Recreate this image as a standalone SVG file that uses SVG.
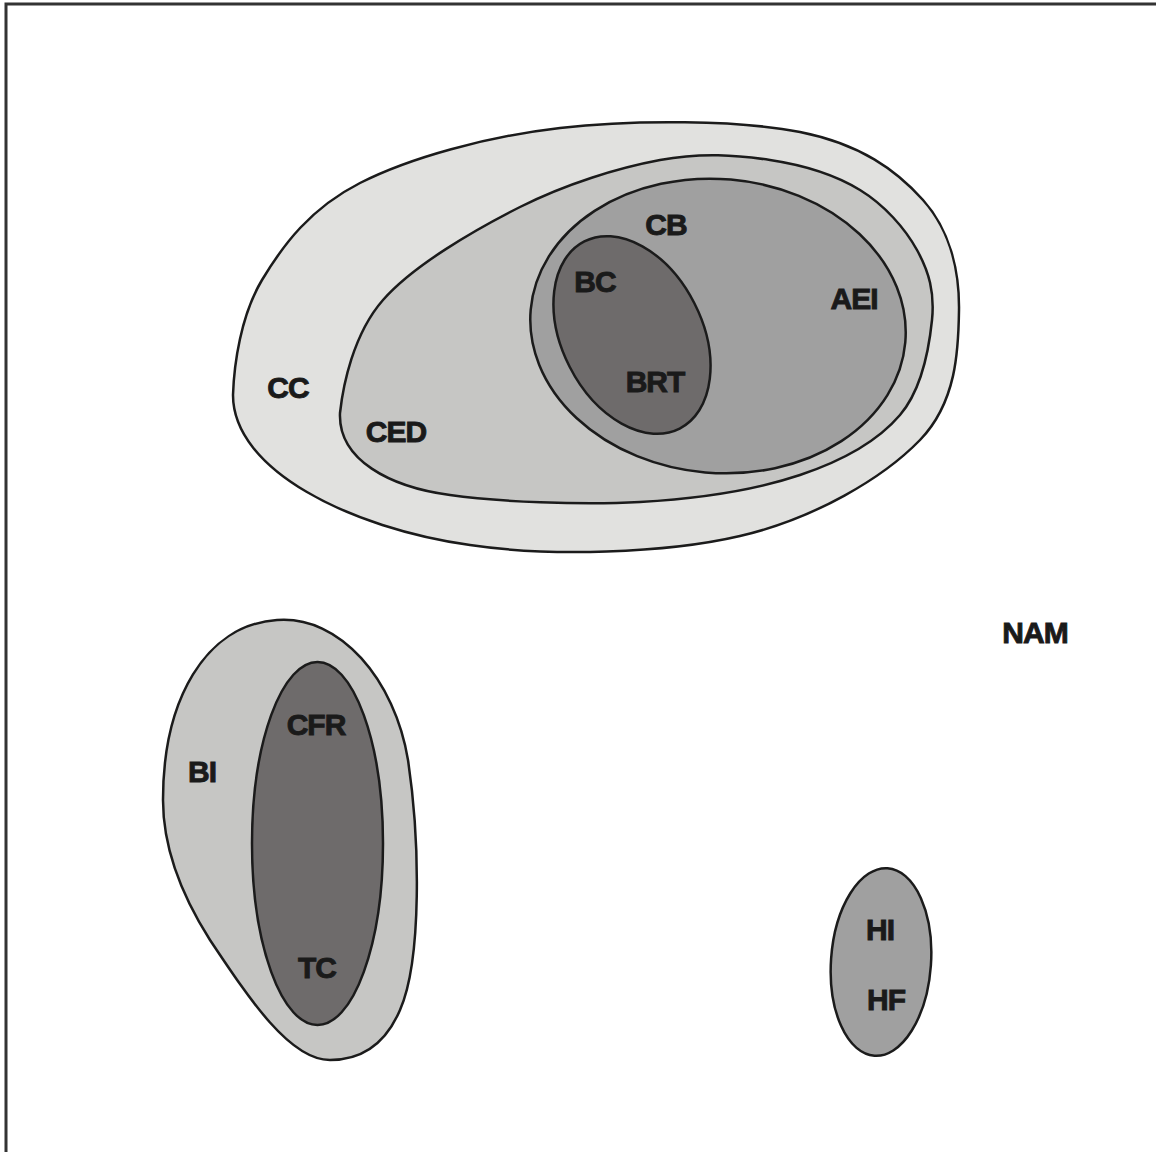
<svg xmlns="http://www.w3.org/2000/svg" width="1156" height="1152" viewBox="0 0 1156 1152">
  <style>
    .region { stroke: #1b1b1b; stroke-width: 2.5; }
    .c1 { fill: #e1e1df; }
    .c2 { fill: #c6c6c4; }
    .c3 { fill: #a0a0a0; }
    .c4 { fill: #6e6b6b; }
    .lbl { font-family: "Liberation Sans", Arial, sans-serif; font-weight: bold; font-size: 30px; fill: #1a1a1a; stroke: #1a1a1a; stroke-width: 0.9; text-anchor: middle; letter-spacing: -1px; }
  </style>
  <rect width="1156" height="1152" fill="#ffffff"/>
  <!-- frame: top and left rules -->
  <path d="M 6,1152 V 4 H 1156" fill="none" stroke="#333333" stroke-width="3"/>

  <!-- upper cluster: nested egg-shaped regions -->
  <g id="CC">
    <path class="region c1" d="M 233,395
      C 234,364.2 240.8,315.3 262,280
      C 283.2,244.7 310.3,208.3 360,183
      C 409.7,157.7 486.7,136.5 560,128
      C 633.3,119.5 739.5,120 800,132
      C 860.5,144 896.5,170.3 923,200
      C 949.5,229.7 959.5,270 959,310
      C 958.5,350 956.5,402.3 920,440
      C 883.5,477.7 815,518.5 740,536
      C 665,553.5 549.2,556.8 470,545
      C 350,528 233,470 233,395 Z"/>
    <text class="lbl" x="288" y="398">CC</text>
  </g>
  <g id="CED">
    <path class="region c2" d="M 340,413
      C 343,386 353,334.3 383,300
      C 413,265.7 473.8,230.3 520,207
      C 566.2,183.7 618.3,167.8 660,160
      C 701.7,152.2 736.7,155 770,160
      C 803.3,165 835.5,175 860,190
      C 884.5,205 905,228.3 917,250
      C 929,271.7 934.8,292.5 932,320
      C 929.2,347.5 922,389.2 900,415
      C 878,440.8 843.3,460.5 800,475
      C 756.7,489.5 698.3,498.7 640,502
      C 581.7,505.3 495.8,501.7 450,495
      C 390,487 338,460 340,413 Z"/>
    <text class="lbl" x="396" y="442">CED</text>
  </g>
  <g id="CB">
    <ellipse class="region c3" cx="718" cy="326" rx="188" ry="147" transform="rotate(5 718 326)"/>
    <text class="lbl" x="666" y="235">CB</text>
    <text class="lbl" x="854" y="309">AEI</text>
  </g>
  <g id="BC">
    <ellipse class="region c4" cx="632" cy="335" rx="70" ry="105" transform="rotate(-27 632 335)"/>
    <text class="lbl" x="595" y="292">BC</text>
    <text class="lbl" x="655" y="392">BRT</text>
  </g>

  <!-- lower left cluster -->
  <g id="BI">
    <path class="region c2" d="M 277,620 C 340,615 395,680 408,760 C 420,840 422,960 400,1010 C 385,1045 360,1060 330,1060 C 290,1060 250,1000 210,940 C 175,885 163,840 163,800 C 163,700 205,625 277,620 Z"/>
    <text class="lbl" x="202" y="782">BI</text>
  </g>
  <g id="CFR">
    <ellipse class="region c4" cx="317.5" cy="843.5" rx="65.5" ry="181.5"/>
    <text class="lbl" x="316" y="735">CFR</text>
    <text class="lbl" x="317" y="978">TC</text>
  </g>

  <!-- lower right -->
  <g id="HI">
    <ellipse class="region c3" cx="881" cy="962" rx="50" ry="94" transform="rotate(4 881 962)"/>
    <text class="lbl" x="880" y="940">HI</text>
    <text class="lbl" x="886" y="1010">HF</text>
  </g>
  <g id="NAM">
    <text class="lbl" x="1035" y="643">NAM</text>
  </g>

  <g id="connectors"/>
</svg>
